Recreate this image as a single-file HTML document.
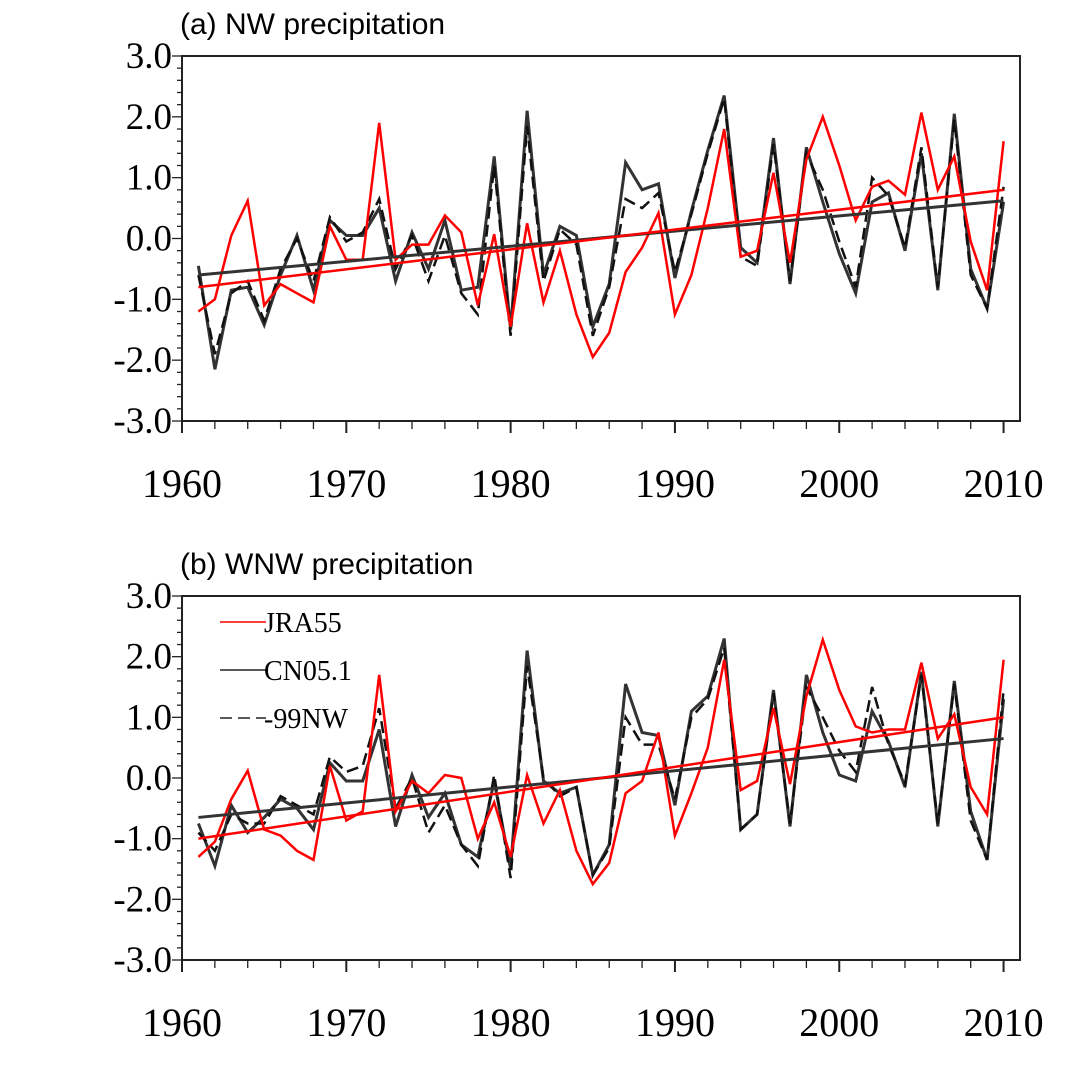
<!DOCTYPE html>
<html><head><meta charset="utf-8"><style>
html,body{margin:0;padding:0;background:#fff;}
svg{display:block;}
</style></head><body>
<svg id="chart" width="1080" height="1080" xmlns="http://www.w3.org/2000/svg"></svg>
<script>
const years = [];
for (let y = 1961; y <= 2010; y++) years.push(y);
const yTicks = [-3, -2, -1, 0, 1, 2, 3];
const yTickLabels = ["-3.0", "-2.0", "-1.0", "0.0", "1.0", "2.0", "3.0"];
const xTicks = [1960, 1970, 1980, 1990, 2000, 2010];

const nwJRA = [-1.2,-1.0,0.05,0.62,-1.1,-0.75,-0.9,-1.05,0.2,-0.35,-0.35,1.9,-0.35,-0.1,-0.1,0.38,0.1,-1.1,0.07,-1.45,0.25,-1.05,-0.2,-1.25,-1.95,-1.55,-0.55,-0.15,0.42,-1.25,-0.6,0.5,1.8,-0.3,-0.2,1.08,-0.4,1.3,2.0,1.2,0.3,0.85,0.95,0.72,2.07,0.8,1.35,-0.05,-0.85,1.6];
const nwCN = [-0.45,-2.15,-0.85,-0.8,-1.42,-0.6,0.05,-0.85,0.3,0.05,0.05,0.5,-0.7,0.1,-0.5,0.3,-0.85,-0.8,1.35,-1.5,2.1,-0.6,0.2,0.05,-1.45,-0.75,1.25,0.8,0.9,-0.65,0.45,1.45,2.35,-0.15,-0.4,1.65,-0.75,1.5,0.6,-0.25,-0.9,0.6,0.75,-0.2,1.4,-0.85,2.05,-0.5,-1.15,0.6];
const nw99 = [-0.6,-1.9,-0.9,-0.7,-1.35,-0.5,0.0,-0.7,0.35,-0.05,0.1,0.65,-0.5,0.05,-0.7,0.05,-0.9,-1.25,1.2,-1.6,1.85,-0.7,0.15,-0.1,-1.6,-0.8,0.65,0.5,0.75,-0.55,0.4,1.4,2.3,-0.3,-0.45,1.55,-0.7,1.4,0.8,-0.05,-0.8,1.0,0.7,-0.15,1.5,-0.8,1.95,-0.6,-1.15,0.85];
const nwTrendJRA = [-0.8, 0.8];
const nwTrendCN = [-0.6, 0.62];

const wnwJRA = [-1.3,-1.05,-0.35,0.12,-0.85,-0.95,-1.2,-1.35,0.2,-0.7,-0.55,1.7,-0.55,-0.05,-0.25,0.05,0.0,-1.0,-0.4,-1.3,0.05,-0.75,-0.2,-1.2,-1.75,-1.4,-0.25,-0.05,0.75,-0.95,-0.25,0.5,1.95,-0.2,-0.05,1.15,-0.1,1.35,2.28,1.45,0.85,0.75,0.8,0.8,1.9,0.65,1.05,-0.15,-0.6,1.95];
const wnwCN = [-0.75,-1.45,-0.45,-0.9,-0.65,-0.35,-0.5,-0.85,0.25,-0.05,-0.05,0.8,-0.8,0.05,-0.65,-0.25,-1.1,-1.3,-0.05,-1.5,2.1,-0.05,-0.25,-0.15,-1.6,-1.1,1.55,0.75,0.7,-0.45,1.1,1.35,2.3,-0.85,-0.6,1.45,-0.8,1.7,0.75,0.05,-0.05,1.1,0.6,-0.15,1.75,-0.8,1.6,-0.55,-1.35,1.3];
const wnw99 = [-0.9,-1.2,-0.6,-0.75,-0.75,-0.3,-0.45,-0.6,0.35,0.1,0.2,1.15,-0.5,0.0,-0.9,-0.45,-1.1,-1.45,0.05,-1.65,1.85,0.0,-0.3,-0.15,-1.6,-1.15,1.0,0.55,0.55,-0.35,1.0,1.3,2.15,-0.85,-0.6,1.4,-0.75,1.5,1.0,0.45,0.1,1.5,0.55,-0.1,1.7,-0.75,1.55,-0.7,-1.35,1.45];
const wnwTrendJRA = [-1.0, 1.0];
const wnwTrendCN = [-0.65, 0.65];

const NS = "http://www.w3.org/2000/svg";
const svg = document.getElementById("chart");
function mk(tag, attrs, parent) {
  const e = document.createElementNS(NS, tag);
  for (const k in attrs) e.setAttribute(k, attrs[k]);
  (parent || svg).appendChild(e);
  return e;
}

function panel(id, title, top, bottom, jra, cn, n99, tJ, tC, legend) {
  const L = 182, R = 1020;
  const g = mk("g", {});
  
  
  const xs = yr => L + (yr - 1960) * (R - L) / 51;
  const ys = v => top + (3 - v) * (bottom - top) / 6;
  const t = mk("text", {x: 180, y: top - 22, "font-family": "Liberation Sans, sans-serif", "font-size": 30, fill: "#000"}, g);
  t.textContent = title;
  
  
  const fr = mk("rect", {x: L, y: top, width: R - L, height: bottom - top, fill: "none", stroke: "#222", "stroke-width": 2}, g);
  
  
  for (let v = -3; v <= 3.001; v += 0.2) {
    const major = Math.abs(v - Math.round(v)) < 0.01;
    const tk = mk("line", {x1: L, x2: L - (major ? 10 : 5), y1: ys(v), y2: ys(v), stroke: "#222", "stroke-width": 1.3}, g);
    
    
  }
  yTicks.forEach((v, i) => {
    const tl = mk("text", {x: 172, y: ys(v) + 12, "text-anchor": "end", "font-family": "Liberation Serif, serif", "font-size": 37, fill: "#000"}, g);
    tl.textContent = yTickLabels[i];
    
    
  });
  for (let yr = 1960; yr <= 2010; yr += 2) {
    const major = yr % 10 === 0;
    const tk = mk("line", {x1: xs(yr), x2: xs(yr), y1: bottom, y2: bottom + (major ? 12 : 8), stroke: "#222", "stroke-width": major ? 2 : 1.3}, g);
    
    
  }
  xTicks.forEach(yr => {
    const tl = mk("text", {x: xs(yr), y: bottom + 76, "text-anchor": "middle", "font-family": "Liberation Serif, serif", "font-size": 40, fill: "#000"}, g);
    tl.textContent = yr;
    
    
  });
  const pts = arr => arr.map((v, i) => xs(years[i]).toFixed(1) + "," + ys(v).toFixed(1)).join(" ");
  const lc = mk("polyline", {points: pts(cn), fill: "none", stroke: "#333", "stroke-width": 3}, g);
  
  
  const l9 = mk("polyline", {points: pts(n99), fill: "none", stroke: "#111", "stroke-width": 2.5, "stroke-dasharray": "12,6"}, g);
  
  
  const lj = mk("polyline", {points: pts(jra), fill: "none", stroke: "#f00", "stroke-width": 2.5}, g);
  
  
  const trC = mk("line", {x1: xs(1961), y1: ys(tC[0]), x2: xs(2010), y2: ys(tC[1]), stroke: "#333", "stroke-width": 3}, g);
  
  
  const trJ = mk("line", {x1: xs(1961), y1: ys(tJ[0]), x2: xs(2010), y2: ys(tJ[1]), stroke: "#f00", "stroke-width": 2.5}, g);
  
  
  if (legend) {
    const items = [["JRA55", "#f00", null], ["CN05.1", "#222", null], ["-99NW", "#222", "12,6"]];
    items.forEach((it, i) => {
      const yy = 622 + i * 48;
      const lg = mk("g", {}, g);
      
      
      const a = {x1: 220, x2: 266, y1: yy, y2: yy, stroke: it[1], "stroke-width": 1.5};
      if (it[2]) a["stroke-dasharray"] = it[2];
      mk("line", a, lg);
      const tx = mk("text", {x: 264, y: yy + 10, "font-family": "Liberation Serif, serif", "font-size": 28, fill: "#000"}, lg);
      tx.textContent = it[0];
    });
  }
}
panel("nw", "(a) NW precipitation", 56, 421, nwJRA, nwCN, nw99, nwTrendJRA, nwTrendCN, false);
panel("wnw", "(b) WNW precipitation", 596, 960, wnwJRA, wnwCN, wnw99, wnwTrendJRA, wnwTrendCN, true);
</script>
</body></html>
